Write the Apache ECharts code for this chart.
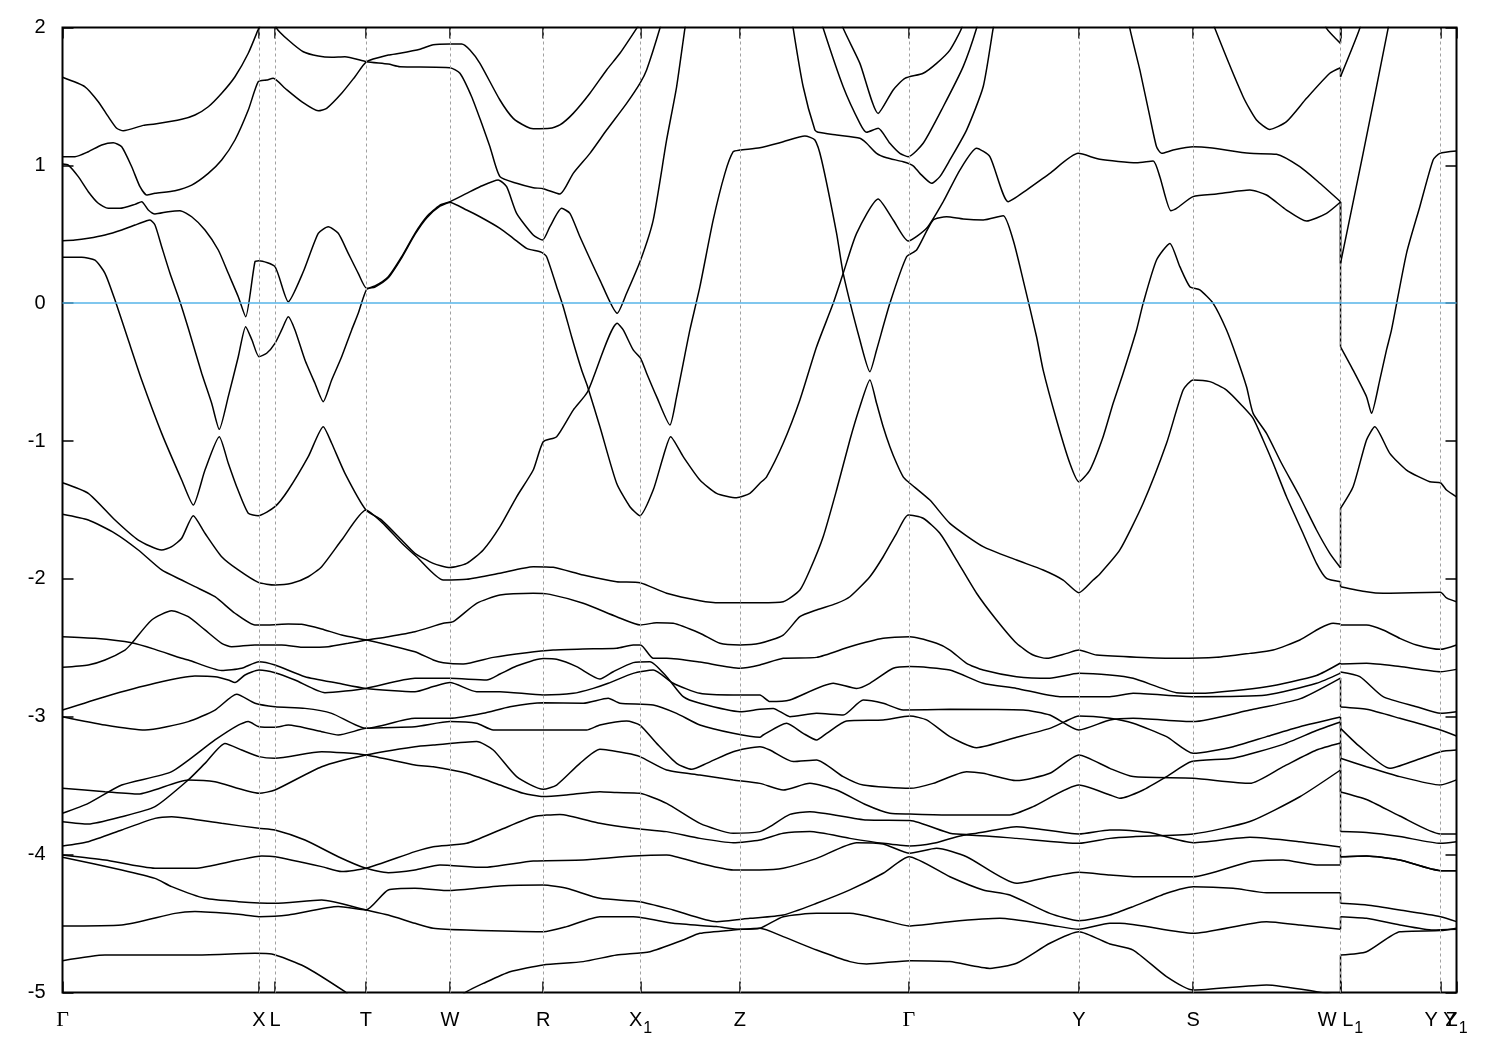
<!DOCTYPE html>
<html><head><meta charset="utf-8">
<script src="https://cdn.jsdelivr.net/npm/echarts@6/dist/echarts.min.js"></script>
<style>html,body{margin:0;padding:0;background:#fff}#c{width:1500px;height:1050px}</style>
</head><body><div id="c"></div>
<script>
// high-symmetry points along the path (path-length units) and their labels
const kTicks = [0,196.5,212.5,303.5,387.5,480.8,578.2,677.5,846.5,1016.5,1130.8,1278.2,1378.2,1394.2];
const tickLabels = ['Γ','X','L','T','W','R','X_1','Z','Γ','Y','S','W L_1','Y Y','Z_1'];
const energyTicks = [-5,-4,-3,-2,-1,0,1,2];

// bands: [k, E(eV)]
const band01 = [[0,1.639],[22.5,1.570],[35.8,1.462],[45.8,1.353],[54.2,1.269],[60.8,1.251],[80.8,1.290],[92.5,1.300],[119.2,1.334],[132.5,1.365],[145.8,1.425],[159.2,1.523],[172.5,1.643],[185.8,1.813],[195.8,1.987],[201,2.08]];
const band02 = [[211.5,2.09],[214.2,1.994],[225.8,1.909],[240.8,1.824],[255.8,1.793],[269.2,1.784],[282.5,1.788],[304.2,1.752],[325.8,1.735],[337.5,1.716],[387.5,1.708],[397.5,1.668],[409.2,1.498],[419.2,1.305],[427.5,1.135],[437.5,0.918],[454.2,0.870],[470.8,0.838],[480.8,0.831],[497.5,0.792],[510.8,0.942],[527.5,1.087],[544.2,1.256],[564.2,1.450],[577.5,1.595],[584.2,1.692],[597.5,1.994],[600.5,2.09]];
const band03 = [[0,1.063],[12.5,1.063],[25.8,1.099],[39.2,1.148],[50.8,1.164],[59.2,1.135],[69.2,0.990],[77.5,0.845],[84.2,0.785],[92.5,0.797],[112.5,0.816],[129.2,0.857],[145.8,0.942],[159.2,1.039],[172.5,1.184],[185.8,1.401],[195.8,1.607],[204.2,1.619],[210.8,1.631],[222.5,1.559],[239.2,1.462],[255.8,1.396],[264.2,1.414],[279.2,1.523],[292.5,1.643],[304.2,1.752],[325.8,1.80],[337.5,1.813],[357.5,1.842],[370.8,1.875],[387.5,1.880],[399.2,1.880],[407.5,1.837],[417.5,1.740],[437.5,1.474],[450.8,1.341],[464.2,1.280],[470.8,1.266],[487.5,1.269],[497.5,1.293],[510.8,1.377],[527.5,1.523],[544.2,1.692],[557.5,1.813],[574.2,1.994],[582.5,2.09]];
const band04 = [[0,1.010],[5.8,1.002],[15.8,0.918],[25.8,0.809],[35.8,0.725],[45.8,0.688],[57.5,0.688],[72.5,0.717],[79.2,0.736],[85.8,0.676],[92.5,0.647],[105.8,0.664],[117.5,0.671],[129.2,0.627],[142.5,0.531],[155.8,0.386],[165.8,0.217],[175.8,0.047],[183.2,-0.098],[192.5,0.301],[196.5,0.308],[212.5,0.265],[225.8,0.011],[240.8,0.228],[255.8,0.507],[265.8,0.555],[275.8,0.507],[285.8,0.362],[295.8,0.217],[304.2,0.108],[312.5,0.125],[325.8,0.192],[339.2,0.337],[352.5,0.507],[364.2,0.627],[377.5,0.712],[387.5,0.736],[404.2,0.797],[417.5,0.845],[435.8,0.894],[444.2,0.845],[454.2,0.652],[470.8,0.495],[480.2,0.458],[487.5,0.555],[499.2,0.688],[507.5,0.652],[517.5,0.482],[537.5,0.168],[554.8,-0.073],[564.2,0.072],[578.2,0.313],[590.8,0.603],[604.2,1.184],[614.2,1.570],[622.5,1.994],[625.5,2.126]];
const band05 = [[0,0.453],[12.5,0.458],[25.8,0.471],[42.5,0.495],[59.2,0.531],[72.5,0.567],[84.2,0.598],[87.5,0.603],[92.5,0.567],[99.2,0.410],[107.5,0.217],[117.5,0.011],[125.8,-0.182],[139.2,-0.508],[149.2,-0.726],[156.8,-0.915],[165.8,-0.678],[175.8,-0.388],[183.2,-0.170],[189.5,-0.267],[196.5,-0.388],[204.2,-0.363],[212.5,-0.291],[219.2,-0.194],[225.8,-0.098],[232.5,-0.194],[242.5,-0.412],[252.5,-0.581],[260.8,-0.714],[269.2,-0.557],[279.2,-0.388],[289.2,-0.194],[295.8,-0.073],[304.2,0.100],[312.5,0.117],[325.8,0.184],[339.2,0.329],[352.5,0.499],[364.2,0.619],[377.5,0.704],[387.5,0.730],[404.2,0.676],[417.5,0.627],[437.5,0.543],[450.8,0.471],[464.2,0.398],[479.2,0.369],[484.2,0.337],[494.2,0.120],[500.8,-0.025],[509.2,-0.243],[519.2,-0.485],[525.2,-0.606],[537.5,-0.896],[554.2,-1.306],[567.5,-1.476],[577.5,-1.541],[590.8,-1.355],[600.8,-1.113],[608.2,-0.968],[620.8,-1.113],[637.5,-1.282],[654.2,-1.379],[674.2,-1.411],[687.5,-1.379],[697.5,-1.306],[704.2,-1.259],[720.8,-1.016],[737.5,-0.702],[754.2,-0.316],[770.8,-0.001],[780.8,0.217],[794.2,0.507],[815.8,0.756],[830.8,0.604],[845.8,0.451],[864.2,0.543],[880.8,0.736],[897.5,0.966],[914.2,1.124],[927.5,1.063],[945.8,0.736],[964.2,0.821],[987.5,0.942],[1015.8,1.087],[1037.5,1.044],[1074.2,1.019],[1090.8,1.031],[1097.5,0.918],[1108.5,0.671],[1114.2,0.688],[1130.8,0.773],[1154.2,0.792],[1187.5,0.821],[1204.2,0.785],[1224.2,0.676],[1244.2,0.596],[1264.2,0.652],[1278.2,0.734],[1278.2,0.289],[1300.8,1.087],[1325.8,1.994],[1327.5,2.09]];
const band06 = [[1065.5,2.127],[1067.5,1.994],[1077.5,1.692],[1087.5,1.353],[1094.2,1.135],[1099.2,1.087],[1110.8,1.111],[1130.8,1.135],[1147.5,1.128],[1187.5,1.087],[1214.2,1.080],[1237.5,0.990],[1257.5,0.870],[1278.2,0.736],[1278.2,-0.316],[1290.8,-0.485],[1304.2,-0.678],[1309.2,-0.799],[1317.5,-0.556],[1324.2,-0.339],[1329.2,-0.194],[1344.2,0.362],[1357.5,0.700],[1370.8,1.039],[1377.5,1.087],[1394.2,1.104]];
const band07 = [[0,0.333],[19.2,0.333],[32.5,0.313],[42.5,0.217],[52.5,0.023],[65.8,-0.267],[79.2,-0.557],[99.2,-0.944],[119.2,-1.282],[130.8,-1.464],[142.5,-1.210],[156.8,-0.968],[165.8,-1.161],[174.2,-1.331],[185.8,-1.524],[195.8,-1.541],[212.5,-1.476],[225.8,-1.355],[245.8,-1.113],[260.8,-0.896],[269.2,-1.016],[282.5,-1.234],[303.5,-1.500],[319.2,-1.573],[339.2,-1.718],[352.5,-1.814],[370.8,-1.887],[387.5,-1.917],[404.2,-1.887],[420.8,-1.790],[437.5,-1.621],[454.2,-1.404],[470.8,-1.210],[480.8,-1.005],[494.2,-0.968],[510.8,-0.775],[525.2,-0.642],[554.8,-0.146],[560.8,-0.194],[570.8,-0.339],[578.2,-0.400],[584.2,-0.508],[594.2,-0.678],[607.5,-0.883],[614.2,-0.678],[620.8,-0.436],[627.5,-0.194],[637.5,0.120],[650.8,0.604],[662.5,0.942],[670.8,1.099],[677.5,1.111],[697.5,1.128],[720.8,1.171],[742.5,1.213],[752.5,1.184],[759.2,1.039],[774.2,0.507],[780.8,0.217],[797.5,-0.267],[807.5,-0.497],[814.2,-0.339],[827.5,-0.001],[844.2,0.337],[854.2,0.386],[870.8,0.604],[884.2,0.627],[900.8,0.611],[920.8,0.604],[940.8,0.635],[950.8,0.458],[960.8,0.168],[974.2,-0.243],[980.8,-0.485],[994.2,-0.847],[1007.5,-1.161],[1016.5,-1.295],[1027.5,-1.210],[1040.8,-0.968],[1050.8,-0.726],[1060.8,-0.508],[1074.2,-0.194],[1080.8,-0.001],[1094.2,0.313],[1107.5,0.434],[1117.5,0.265],[1127.5,0.120],[1137.5,0.096],[1150.8,-0.001],[1164.2,-0.194],[1174.2,-0.388],[1184.2,-0.606],[1190.8,-0.799],[1204.2,-0.944],[1219.2,-1.161],[1237.5,-1.404],[1254.2,-1.645],[1267.5,-1.814],[1278.2,-1.919],[1278.2,-1.488],[1290.8,-1.331],[1304.2,-0.992],[1312.5,-0.896],[1327.5,-1.089],[1344.2,-1.210],[1367.5,-1.295],[1378.2,-1.302],[1384.2,-1.355],[1394.2,-1.404]];
const band08 = [[0,-1.302],[25.8,-1.379],[52.5,-1.573],[75.8,-1.718],[99.2,-1.790],[109.2,-1.766],[119.2,-1.705],[130.8,-1.541],[142.5,-1.669],[159.2,-1.839],[175.8,-1.935],[195.8,-2.025],[212.5,-2.044],[229.2,-2.032],[245.8,-1.984],[259.2,-1.911],[279.2,-1.718],[303.5,-1.500],[319.2,-1.588],[339.2,-1.739],[354.2,-1.839],[380.8,-2.008],[404.2,-2.003],[437.5,-1.959],[470.8,-1.911],[490.8,-1.916],[520.8,-1.972],[554.2,-2.020],[577.5,-2.027],[604.2,-2.104],[637.5,-2.158],[657.5,-2.173],[697.5,-2.173],[720.8,-2.165],[737.5,-2.080],[747.5,-1.935],[760.8,-1.694],[774.2,-1.355],[787.5,-0.992],[797.5,-0.751],[807.5,-0.557],[814.2,-0.726],[820.8,-0.896],[827.5,-1.041],[834.2,-1.161],[840.8,-1.259],[845.8,-1.295],[867.5,-1.428],[887.5,-1.597],[920.8,-1.766],[954.2,-1.863],[980.8,-1.935],[1000.8,-2.008],[1016.5,-2.100],[1030.8,-2.008],[1037.5,-1.964],[1057.5,-1.790],[1080.8,-1.451],[1104.2,-1.016],[1120.8,-0.630],[1130.8,-0.557],[1147.5,-0.569],[1164.2,-0.630],[1180.8,-0.751],[1190.8,-0.835],[1200.8,-0.992],[1210.8,-1.161],[1224.2,-1.404],[1239.2,-1.645],[1254.2,-1.887],[1264.2,-1.996],[1278.2,-2.020],[1278.2,-2.056],[1304.2,-2.093],[1320.8,-2.104],[1378.2,-2.097],[1384.2,-2.138],[1394.2,-2.165]];
const band09 = [[0,-1.531],[25.8,-1.573],[52.5,-1.669],[75.8,-1.790],[99.2,-1.935],[119.2,-2.008],[132.5,-2.056],[152.5,-2.129],[172.5,-2.249],[192.5,-2.334],[205.8,-2.334],[225.8,-2.327],[239.2,-2.329],[259.2,-2.363],[279.2,-2.407],[304.2,-2.443],[325.8,-2.479],[352.5,-2.528],[370.8,-2.588],[380.8,-2.608],[400.8,-2.617],[430.8,-2.569],[464.2,-2.535],[490.8,-2.516],[520.5,-2.508],[554.2,-2.503],[570.8,-2.479],[578.2,-2.479],[590.8,-2.576],[604.2,-2.576],[637.5,-2.603],[677.5,-2.648],[697.5,-2.624],[720.8,-2.576],[754.2,-2.569],[787.5,-2.492],[820.8,-2.431],[847.5,-2.419],[874.2,-2.467],[887.5,-2.516],[904.2,-2.612],[920.8,-2.661],[954.2,-2.709],[987.5,-2.721],[1016.5,-2.685],[1047.5,-2.697],[1070.8,-2.721],[1114.2,-2.825],[1137.5,-2.830],[1204.2,-2.782],[1254.2,-2.700],[1278.2,-2.610],[1278.2,-2.617],[1304.2,-2.612],[1337.5,-2.636],[1378.2,-2.673],[1394.2,-2.656]];
const band10 = [[0,-2.641],[25.8,-2.624],[42.5,-2.588],[62.5,-2.516],[69.2,-2.467],[89.2,-2.298],[109.2,-2.231],[125.8,-2.274],[142.5,-2.370],[159.2,-2.467],[169.2,-2.492],[192.5,-2.479],[219.2,-2.479],[242.5,-2.496],[265.8,-2.492],[285.8,-2.467],[304.2,-2.443],[325.8,-2.419],[352.5,-2.383],[380.8,-2.322],[390.8,-2.310],[414.2,-2.177],[437.5,-2.117],[470.8,-2.104],[487.5,-2.112],[520.8,-2.177],[554.2,-2.274],[578.2,-2.334],[594.2,-2.318],[610.8,-2.322],[637.5,-2.394],[657.5,-2.467],[677.5,-2.479],[697.5,-2.467],[720.8,-2.407],[737.5,-2.274],[754.2,-2.225],[774.2,-2.177],[787.5,-2.129],[807.5,-1.984],[820.8,-1.839],[834.2,-1.669],[845.8,-1.536],[860.8,-1.560],[877.5,-1.669],[894.2,-1.863],[914.2,-2.104],[934.2,-2.298],[954.2,-2.467],[970.8,-2.552],[984.2,-2.576],[1004.2,-2.540],[1016.5,-2.516],[1034.2,-2.552],[1114.2,-2.576],[1154.2,-2.569],[1187.5,-2.540],[1210.8,-2.516],[1237.5,-2.443],[1257.5,-2.358],[1270.8,-2.322],[1278.2,-2.327],[1278.2,-2.334],[1304.2,-2.334],[1320.8,-2.370],[1337.5,-2.431],[1354.2,-2.479],[1378.2,-2.511],[1394.2,-2.479]];
const band11 = [[0,-2.419],[32.5,-2.431],[69.2,-2.463],[92.5,-2.511],[119.2,-2.576],[125.8,-2.588],[159.2,-2.665],[179.2,-2.648],[196.5,-2.600],[212.5,-2.624],[242.5,-2.709],[275.8,-2.757],[303.5,-2.794],[352.5,-2.818],[370.8,-2.781],[387.5,-2.752],[414.2,-2.818],[437.5,-2.818],[480.8,-2.842],[510.8,-2.830],[530.8,-2.794],[545.8,-2.757],[570.8,-2.685],[590.8,-2.661],[610.8,-2.757],[637.5,-2.830],[670.8,-2.842],[697.5,-2.842],[707.5,-2.890],[727.5,-2.878],[770.8,-2.757],[794.2,-2.794],[807.5,-2.757],[830.8,-2.648],[847.5,-2.636],[887.5,-2.661],[920.8,-2.757],[954.2,-2.794],[997.5,-2.854],[1047.5,-2.854],[1070.8,-2.830],[1130.8,-2.854],[1204.2,-2.842],[1254.2,-2.757],[1278.2,-2.683],[1278.2,-2.675],[1297.5,-2.709],[1320.8,-2.854],[1354.2,-2.927],[1378.2,-2.975],[1394.2,-2.963]];
const band12 = [[0,-2.951],[42.5,-2.854],[92.5,-2.757],[132.5,-2.704],[152.5,-2.709],[165.8,-2.733],[172.5,-2.752],[182.5,-2.697],[196.5,-2.661],[212.5,-2.680],[232.5,-2.733],[262.5,-2.825],[303.5,-2.794],[352.5,-2.721],[387.5,-2.721],[424.2,-2.733],[437.5,-2.690],[454.2,-2.632],[480.8,-2.578],[494.2,-2.583],[514.2,-2.636],[537.5,-2.726],[550.8,-2.673],[570.8,-2.607],[587.5,-2.600],[604.2,-2.709],[620.8,-2.854],[637.5,-2.902],[677.5,-2.963],[697.5,-2.946],[710.8,-2.939],[727.5,-2.999],[754.2,-2.975],[780.8,-2.987],[800.8,-2.878],[820.8,-2.902],[840.8,-2.951],[887.5,-2.946],[960.8,-2.951],[987.5,-2.987],[1016.5,-3.096],[1047.5,-3.023],[1070.8,-3.011],[1130.8,-3.035],[1187.5,-2.951],[1237.5,-2.870],[1278.2,-2.719],[1278.2,-2.929],[1304.2,-2.946],[1337.5,-3.011],[1378.2,-3.096],[1394.2,-3.139]];
const band13 = [[0,-2.999],[42.5,-3.060],[82.5,-3.096],[125.8,-3.035],[152.5,-2.951],[174.2,-2.837],[192.5,-2.902],[212.5,-2.927],[242.5,-2.939],[269.2,-2.975],[303.5,-3.084],[352.5,-3.011],[387.5,-3.011],[420.8,-2.975],[447.5,-2.927],[480.8,-2.898],[520.8,-2.902],[545.8,-2.866],[557.5,-2.902],[590.8,-2.914],[614.2,-2.975],[637.5,-3.060],[670.8,-3.120],[697.5,-3.149],[700.8,-3.132],[724.2,-3.047],[740.8,-3.120],[754.2,-3.168],[764.2,-3.120],[784.2,-3.031],[820.8,-3.023],[847.5,-2.994],[864.2,-3.023],[887.5,-3.144],[914.2,-3.224],[954.2,-3.149],[987.5,-3.084],[1002.5,-3.035],[1016.5,-2.994],[1047.5,-3.011],[1070.8,-3.047],[1104.2,-3.144],[1130.8,-3.265],[1170.8,-3.217],[1204.2,-3.144],[1237.5,-3.072],[1278.2,-3.002],[1278.2,-3.084],[1297.5,-3.217],[1327.5,-3.374],[1354.2,-3.313],[1378.2,-3.253],[1394.2,-3.241]];
const band14 = [[0,-3.700],[25.8,-3.628],[59.2,-3.495],[109.2,-3.398],[152.5,-3.168],[175.8,-3.060],[185.8,-3.035],[196.5,-3.072],[212.5,-3.076],[225.8,-3.060],[259.2,-3.108],[275.8,-3.132],[303.5,-3.084],[352.5,-3.072],[387.5,-3.035],[414.2,-3.047],[430.8,-3.096],[480.8,-3.096],[524.2,-3.096],[537.5,-3.060],[564.2,-3.031],[577.5,-3.060],[594.2,-3.193],[614.2,-3.338],[629.2,-3.381],[644.2,-3.338],[670.8,-3.253],[697.5,-3.217],[707.5,-3.241],[730.8,-3.325],[754.2,-3.313],[780.8,-3.434],[800.8,-3.495],[847.5,-3.519],[870.8,-3.483],[904.2,-3.398],[920.8,-3.410],[954.2,-3.463],[987.5,-3.410],[1016.5,-3.277],[1047.5,-3.374],[1070.8,-3.434],[1130.8,-3.446],[1187.5,-3.483],[1220.8,-3.362],[1254.2,-3.241],[1278.2,-3.190],[1278.2,-3.545],[1304.2,-3.600],[1337.5,-3.720],[1378.2,-3.850],[1394.2,-3.850]];
const band15 = [[0,-3.519],[42.5,-3.543],[75.8,-3.560],[125.8,-3.458],[152.5,-3.471],[196.5,-3.555],[212.5,-3.531],[259.2,-3.362],[303.5,-3.277],[352.5,-3.217],[370.8,-3.205],[414.2,-3.180],[430.8,-3.241],[454.2,-3.434],[480.8,-3.526],[494.2,-3.495],[517.5,-3.338],[537.5,-3.236],[564.2,-3.265],[577.5,-3.289],[604.2,-3.386],[637.5,-3.422],[670.8,-3.458],[697.5,-3.483],[720.8,-3.531],[747.5,-3.483],[774.2,-3.531],[804.2,-3.640],[827.5,-3.700],[847.5,-3.705],[887.5,-3.712],[947.5,-3.712],[970.8,-3.652],[1016.5,-3.495],[1047.5,-3.567],[1057.5,-3.591],[1080.8,-3.531],[1104.2,-3.434],[1129.2,-3.325],[1170.8,-3.300],[1220.8,-3.200],[1254.2,-3.100],[1278.2,-3.038],[1278.2,-3.301],[1304.2,-3.362],[1337.5,-3.434],[1378.2,-3.495],[1394.2,-3.458]];
const band16 = [[0,-3.761],[25.8,-3.778],[59.2,-3.725],[92.5,-3.652],[125.8,-3.458],[142.5,-3.338],[162.5,-3.193],[179.2,-3.241],[196.5,-3.289],[212.5,-3.301],[259.2,-3.253],[303.5,-3.277],[352.5,-3.350],[370.8,-3.362],[404.2,-3.410],[437.5,-3.495],[460.8,-3.555],[480.8,-3.579],[504.2,-3.567],[537.5,-3.543],[554.2,-3.550],[577.5,-3.555],[604.2,-3.628],[637.5,-3.773],[670.8,-3.845],[697.5,-3.833],[707.5,-3.797],[727.5,-3.708],[747.5,-3.688],[804.2,-3.749],[847.5,-3.753],[887.5,-3.845],[904.2,-3.853],[954.2,-3.797],[1016.5,-3.850],[1047.5,-3.821],[1057.5,-3.821],[1087.5,-3.840],[1130.8,-3.913],[1187.5,-3.874],[1237.5,-3.906],[1278.2,-3.945],[1278.2,-4.016],[1304.2,-4.010],[1337.5,-4.039],[1378.2,-4.116],[1394.2,-4.116]];
const band17 = [[0,-3.937],[25.8,-3.906],[59.2,-3.821],[92.5,-3.737],[109.2,-3.725],[125.8,-3.737],[159.2,-3.773],[196.5,-3.809],[212.5,-3.821],[242.5,-3.894],[275.8,-4.015],[303.5,-4.099],[325.8,-4.131],[352.5,-4.111],[377.5,-4.075],[420.8,-4.092],[470.8,-4.046],[520.8,-4.039],[570.8,-4.010],[604.2,-4.002],[637.5,-4.063],[670.8,-4.111],[697.5,-4.111],[720.8,-4.099],[754.2,-4.027],[794.2,-3.913],[820.8,-3.923],[847.5,-3.990],[874.2,-3.954],[904.2,-4.015],[954.2,-4.208],[987.5,-4.160],[1016.5,-4.128],[1047.5,-4.148],[1070.8,-4.160],[1130.8,-4.160],[1187.5,-4.051],[1220.8,-4.039],[1254.2,-4.075],[1278.2,-4.075],[1278.2,-4.015],[1304.2,-4.010],[1337.5,-4.039],[1378.2,-4.116],[1394.2,-4.116]];
const band18 = [[0,-4.002],[42.5,-4.039],[92.5,-4.099],[132.5,-4.099],[175.8,-4.039],[199.2,-4.010],[212.5,-4.015],[259.2,-4.087],[279.2,-4.123],[303.5,-4.099],[352.5,-3.978],[370.8,-3.942],[404.2,-3.918],[437.5,-3.821],[470.8,-3.725],[497.5,-3.708],[537.5,-3.773],[570.8,-3.809],[604.2,-3.833],[637.5,-3.882],[670.8,-3.913],[697.5,-3.894],[720.8,-3.845],[747.5,-3.833],[787.5,-3.882],[820.8,-3.918],[847.5,-3.937],[870.8,-3.918],[904.2,-3.857],[954.2,-3.882],[1016.5,-3.918],[1047.5,-3.882],[1070.8,-3.870],[1130.8,-3.850],[1187.5,-3.760],[1237.5,-3.580],[1278.2,-3.386],[1278.2,-3.833],[1304.2,-3.840],[1337.5,-3.869],[1378.2,-3.918],[1394.2,-3.906]];
const band19 = [[0,-4.019],[59.2,-4.111],[92.5,-4.172],[109.2,-4.232],[142.5,-4.317],[175.8,-4.341],[212.5,-4.353],[259.2,-4.329],[303.5,-4.401],[325.8,-4.438],[352.5,-4.498],[370.8,-4.534],[404.2,-4.547],[480.8,-4.559],[504.2,-4.522],[537.5,-4.450],[570.8,-4.450],[610.8,-4.498],[654.2,-4.522],[677.5,-4.542],[697.5,-4.534],[720.8,-4.450],[754.2,-4.426],[787.5,-4.426],[820.8,-4.474],[846.5,-4.517],[887.5,-4.486],[937.5,-4.462],[987.5,-4.510],[1016.5,-4.542],[1047.5,-4.498],[1057.5,-4.498],[1130.8,-4.571],[1204.2,-4.486],[1237.5,-4.510],[1278.2,-4.542],[1278.2,-4.450],[1304.2,-4.462],[1337.5,-4.510],[1370.8,-4.547],[1394.2,-4.542]];
const band20 = [[0,-4.517],[59.2,-4.510],[112.5,-4.426],[132.5,-4.413],[175.8,-4.433],[196.5,-4.450],[225.8,-4.438],[275.8,-4.377],[303.5,-4.401],[325.8,-4.256],[352.5,-4.244],[387.5,-4.261],[437.5,-4.227],[480.8,-4.220],[504.2,-4.244],[537.5,-4.317],[577.5,-4.341],[610.8,-4.401],[654.2,-4.486],[687.5,-4.462],[720.8,-4.438],[754.2,-4.353],[787.5,-4.256],[820.8,-4.135],[846.5,-4.015],[887.5,-4.160],[920.8,-4.256],[947.5,-4.293],[987.5,-4.426],[1016.5,-4.479],[1047.5,-4.438],[1070.8,-4.377],[1104.2,-4.280],[1130.8,-4.232],[1170.8,-4.244],[1204.2,-4.276],[1278.2,-4.276],[1278.2,-4.353],[1304.2,-4.365],[1337.5,-4.401],[1378.2,-4.450],[1394.2,-4.486]];
const band21 = [[0,-4.769],[42.5,-4.728],[132.5,-4.728],[192.5,-4.716],[209.2,-4.721],[242.5,-4.813],[282.5,-4.994],[285.8,-5.02]];
const band22 = [[395,-5.05],[404.2,-4.994],[420.8,-4.934],[447.5,-4.849],[480.8,-4.800],[520.8,-4.776],[554.2,-4.728],[587.5,-4.704],[620.8,-4.619],[637.5,-4.571],[670.8,-4.547],[697.5,-4.534],[720.8,-4.595],[754.2,-4.692],[787.5,-4.776],[804.2,-4.793],[847.5,-4.769],[887.5,-4.776],[927.5,-4.825],[954.2,-4.788],[987.5,-4.643],[1016.5,-4.559],[1047.5,-4.648],[1070.8,-4.692],[1104.2,-4.885],[1130.8,-4.982],[1204.2,-4.945],[1254.2,-4.994],[1270.8,-5.02],[1278.2,-5.1],[1278.2,-4.728],[1304.2,-4.704],[1337.5,-4.559],[1378.2,-4.551],[1394.2,-4.534]];
const band23 = [[729.5,2.09],[730.8,1.994],[740.8,1.570],[752.5,1.256],[755.8,1.240],[774.2,1.220],[797.5,1.196],[804.2,1.160],[814.2,1.087],[824.2,1.055],[840.8,1.026],[850.8,0.997],[857.5,0.942],[869.2,0.870],[877.5,0.918],[887.5,1.039],[904.2,1.256],[920.8,1.570],[930.8,1.994],[933.5,2.09]];
const band24 = [[757.5,2.09],[760.8,1.994],[780.8,1.570],[797.5,1.305],[804.2,1.240],[815.8,1.269],[827.5,1.160],[837.5,1.087],[845.8,1.063],[860.8,1.160],[880.8,1.425],[900.8,1.716],[914.2,1.994],[916.5,2.09]];
const band25 = [[777.5,2.09],[780.8,1.994],[797.5,1.740],[815.8,1.377],[830.8,1.547],[842.5,1.631],[860.8,1.668],[874.2,1.740],[887.5,1.836],[899.2,1.994],[901.5,2.09]];
const band26 = [[1260.5,2.09],[1264.2,1.994],[1278.2,1.885],[1278.2,2.2]];
const band27 = [[1148.5,2.09],[1152.5,1.994],[1180.8,1.498],[1194.2,1.329],[1207.5,1.261],[1224.2,1.317],[1244.2,1.486],[1267.5,1.668],[1278.2,1.708],[1278.2,1.643],[1297.5,1.994],[1299.5,2.09]];

const bands = [band01,band02,band03,band04,band05,band06,band07,band08,band09,band10,band11,band12,band13,band14,band15,band16,band17,band18,band19,band20,band21,band22,band23,band24,band25,band26,band27];

const chart = echarts.init(document.getElementById('c'), null, {renderer: 'canvas'});

function tickText(v) {
  const i = kTicks.findIndex(t => Math.abs(t - v) < 0.05);
  if (i < 0) return '';
  return tickLabels[i].split(/(Γ|_1)/).filter(p => p).map(p =>
    p === 'Γ' ? '{g|Γ}' : (p === '_1' ? '{s|1}' : '{n|' + p + '}')).join('');
}

function lineSeries(data, smooth) {
  return {type: 'line', data: data, symbol: 'none', showSymbol: false, silent: true,
    clip: true, z: 3, smooth: smooth, lineStyle: {color: '#000', width: 1.5}};
}

// split each band where the path jumps (same k twice): smooth pieces + vertical connectors
const series = [];
bands.forEach(b => {
  let seg = [b[0]];
  for (let i = 1; i < b.length; i++) {
    if (b[i][0] === b[i - 1][0]) {
      series.push(lineSeries(seg, 0.2));
      series.push(lineSeries([b[i - 1], b[i]], false));
      seg = [b[i]];
    } else {
      seg.push(b[i]);
    }
  }
  series.push(lineSeries(seg, 0.2));
});

series.unshift({
  type: 'line', data: [], silent: true, z: 1,
  markLine: {
    silent: true, symbol: ['none', 'none'], label: {show: false}, animation: false,
    data: kTicks.slice(1, -1).map(k => ({xAxis: k, lineStyle: {color: '#a0a0a0', width: 1, type: [3, 3]}}))
      .concat([{yAxis: 0, lineStyle: {color: '#56b4e9', width: 1.5, type: 'solid'}}])
  }
});

const fontSans = 'Liberation Sans, Arial, sans-serif';
const tickStyle = {color: '#000', width: 1.5};
const labelRich = {
  n: {fontFamily: fontSans, fontSize: 20, color: '#000', lineHeight: 56},
  g: {fontFamily: 'Liberation Serif, serif', fontSize: 22, color: '#000', lineHeight: 56},
  s: {fontFamily: fontSans, fontSize: 16, color: '#000', lineHeight: 40, padding: [16, 0, 0, 1]}
};
const lastK = kTicks[kTicks.length - 1];
chart.setOption({
  animation: false,
  backgroundColor: '#fff',
  grid: {left: 62.5, top: 27.5, right: 43.5, bottom: 57.5, show: true, borderColor: '#000', borderWidth: 2, backgroundColor: 'transparent'},
  xAxis: [{
    type: 'value', min: 0, max: lastK, position: 'bottom',
    axisLine: {show: false, onZero: false}, splitLine: {show: false},
    axisTick: {show: true, inside: true, length: 11, customValues: kTicks, lineStyle: tickStyle},
    axisLabel: {customValues: kTicks.slice(0, -1), formatter: tickText, margin: 0, color: '#000',
      showMinLabel: true, hideOverlap: false, rich: labelRich}
  }, {
    type: 'value', min: 0, max: lastK, position: 'top',
    axisLine: {show: false, onZero: false}, splitLine: {show: false},
    axisTick: {show: true, inside: true, length: 11, customValues: kTicks, lineStyle: tickStyle},
    axisLabel: {show: false}
  }, {
    type: 'value', min: 0, max: lastK, position: 'bottom', offset: 0,
    axisLine: {show: false, onZero: false}, splitLine: {show: false},
    axisTick: {show: false},
    axisLabel: {customValues: [lastK], formatter: tickText, margin: 0, color: '#000',
      showMaxLabel: true, hideOverlap: false, rich: labelRich}
  }],
  yAxis: [{
    type: 'value', min: -5, max: 2, interval: 1, position: 'left',
    axisLine: {show: false, onZero: false}, splitLine: {show: false},
    axisTick: {show: true, inside: true, length: 11, lineStyle: tickStyle},
    axisLabel: {fontFamily: fontSans, fontSize: 20, color: '#000', margin: 17, customValues: energyTicks}
  }, {
    type: 'value', min: -5, max: 2, interval: 1, position: 'right',
    axisLine: {show: false, onZero: false}, splitLine: {show: false},
    axisTick: {show: true, inside: true, length: 11, lineStyle: tickStyle},
    axisLabel: {show: false}
  }],
  series: series
});
</script>
</body></html>
